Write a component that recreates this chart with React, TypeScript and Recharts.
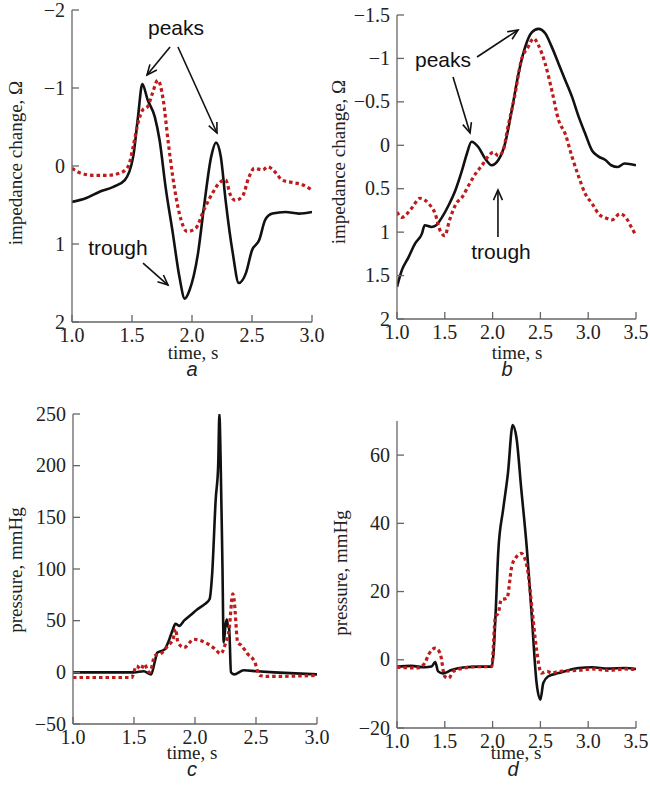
import React from "react"
import { LineChart, Line, XAxis, YAxis, ReferenceLine, ReferenceDot } from "recharts"

// panel a: impedance change, time 1.0–3.0 s
const aBlackT = [1.0, 1.12, 1.23, 1.34, 1.44, 1.51, 1.55, 1.586, 1.63, 1.69, 1.73, 1.78, 1.84, 1.895, 1.94, 1.98, 2.05, 2.1, 2.16, 2.2, 2.24, 2.28, 2.34, 2.39, 2.45, 2.5, 2.56, 2.61, 2.67, 2.78, 2.89, 3.0]
const aBlackV = [0.46, 0.41, 0.33, 0.27, 0.18, -0.12, -0.63, -1.05, -0.85, -0.63, -0.33, 0.27, 0.86, 1.42, 1.7, 1.59, 1.12, 0.52, -0.12, -0.3, -0.12, 0.44, 1.12, 1.5, 1.37, 1.08, 0.95, 0.69, 0.61, 0.59, 0.61, 0.59]
const aRedT = [1.0, 1.07, 1.18, 1.29, 1.4, 1.47, 1.51, 1.55, 1.59, 1.63, 1.67, 1.715, 1.76, 1.8, 1.84, 1.895, 1.96, 2.03, 2.1, 2.17, 2.24, 2.28, 2.32, 2.36, 2.42, 2.475, 2.52, 2.59, 2.63, 2.7, 2.75, 2.83, 2.92, 3.0]
const aRedV = [0.03, 0.09, 0.12, 0.12, 0.09, 0.0, -0.25, -0.55, -0.72, -0.76, -0.93, -1.1, -0.85, -0.33, 0.14, 0.61, 0.84, 0.8, 0.56, 0.35, 0.2, 0.18, 0.37, 0.44, 0.39, 0.14, 0.03, 0.05, 0.01, 0.09, 0.18, 0.21, 0.24, 0.31]

// panel b: impedance change, time 1.0–3.5 s
const bBlackT = [1.0, 1.05, 1.12, 1.19, 1.26, 1.29, 1.36, 1.41, 1.47, 1.54, 1.61, 1.68, 1.73, 1.78, 1.85, 1.92, 1.99, 2.06, 2.13, 2.2, 2.27, 2.34, 2.41, 2.48, 2.55, 2.62, 2.69, 2.76, 2.83, 2.9, 2.97, 3.04, 3.11, 3.18, 3.24, 3.31, 3.38, 3.5]
const bBlackV = [1.63, 1.44, 1.29, 1.13, 1.02, 0.92, 0.94, 0.92, 0.83, 0.69, 0.52, 0.29, 0.1, -0.04, 0.02, 0.15, 0.23, 0.17, -0.02, -0.4, -0.82, -1.13, -1.3, -1.34, -1.29, -1.13, -0.94, -0.75, -0.56, -0.33, -0.13, 0.06, 0.13, 0.17, 0.23, 0.25, 0.21, 0.23]
const bRedT = [1.0, 1.05, 1.15, 1.24, 1.33, 1.4, 1.45, 1.5, 1.55, 1.62, 1.68, 1.75, 1.82, 1.89, 1.96, 2.01, 2.06, 2.11, 2.16, 2.23, 2.3, 2.37, 2.43, 2.48, 2.55, 2.62, 2.69, 2.76, 2.83, 2.9, 2.97, 3.04, 3.11, 3.19, 3.25, 3.33, 3.4, 3.45, 3.5]
const bRedV = [0.77, 0.83, 0.73, 0.61, 0.67, 0.79, 0.98, 1.04, 0.86, 0.67, 0.6, 0.46, 0.33, 0.23, 0.12, 0.08, 0.12, 0.06, -0.21, -0.56, -0.98, -1.13, -1.23, -1.15, -0.94, -0.63, -0.29, -0.13, 0.13, 0.36, 0.56, 0.67, 0.79, 0.84, 0.86, 0.79, 0.84, 0.94, 1.04]

// panel c: pressure, time 1.0–3.0 s
const cBlackT = [1.0, 1.5, 1.58, 1.64, 1.67, 1.69, 1.75, 1.78, 1.82, 1.84, 1.87, 1.91, 1.97, 2.02, 2.08, 2.12, 2.14, 2.17, 2.19, 2.2, 2.21, 2.225, 2.235, 2.25, 2.26, 2.27, 2.28, 2.295, 2.32, 2.4, 2.51, 2.65, 3.0]
const cBlackV = [0, 0, 1, -2, 10, 19, 22, 29, 42, 47, 45, 50, 56, 61, 66, 71, 94, 168, 200, 250, 206, 103, 29, 45, 51, 45, 42, 0, -2, 2, 1, 0, -2]
const cRedT = [1.0, 1.48, 1.52, 1.56, 1.58, 1.63, 1.67, 1.72, 1.78, 1.82, 1.84, 1.86, 1.91, 1.99, 2.08, 2.16, 2.21, 2.25, 2.28, 2.31, 2.32, 2.35, 2.38, 2.43, 2.49, 2.53, 2.6, 3.0]
const cRedV = [-5, -5, 6, 3, 8, 0, 16, 18, 26, 32, 42, 29, 24, 32, 29, 23, 18, 28, 42, 76, 71, 29, 26, 18, 10, -3, -4, -3]

// panel d: pressure, time 1.0–3.5 s
const dBlackT = [1.0, 1.15, 1.29, 1.36, 1.4, 1.43, 1.48, 1.57, 1.71, 1.85, 1.99, 2.01, 2.03, 2.06, 2.11, 2.16, 2.21, 2.25, 2.3, 2.36, 2.41, 2.46, 2.5, 2.53, 2.58, 2.69, 2.9, 3.04, 3.21, 3.39, 3.5]
const dBlackV = [-2, -1.8, -2.2, -2, -0.7, -3.4, -4, -3, -2.2, -2, -2, 2, 12.7, 32, 44, 54.6, 68.8, 65, 50, 32, 12.7, -6.8, -11.7, -6.8, -4.9, -3.9, -2.4, -2.2, -2.6, -2.4, -2.7]
const dRedT = [1.0, 1.22, 1.29, 1.33, 1.4, 1.45, 1.5, 1.54, 1.59, 1.71, 1.85, 1.99, 2.03, 2.06, 2.09, 2.15, 2.2, 2.25, 2.3, 2.36, 2.41, 2.46, 2.51, 2.57, 2.62, 2.69, 2.9, 3.04, 3.21, 3.39, 3.5]
const dRedV = [-2.2, -2.4, -1, 1.5, 3.4, 2, -4.9, -5.4, -3.4, -2.4, -2, -2, 12.7, 13.7, 17.6, 18, 27.3, 30.2, 31.2, 27.3, 15.6, 2.9, -3.9, -3.4, -3.9, -3.4, -3.1, -2.7, -3.1, -2.7, -2.9]

const xTicksShort = [1.0, 1.5, 2.0, 2.5, 3.0]
const xTicksLong = [1.0, 1.5, 2.0, 2.5, 3.0, 3.5]
const aYTicks = [-2, -1, 0, 1, 2]
const bYTicks = [-1.5, -1, -0.5, 0, 0.5, 1, 1.5, 2]
const cYTicks = [-50, 0, 50, 100, 150, 200, 250]
const dYTicks = [-20, 0, 20, 40, 60]

const SERIF = '"Liberation Serif", "Times New Roman", serif'
const SANS = '"Liberation Sans", Arial, sans-serif'
const RED = "#c01a1a"
const BLACK = "#111"
const AXIS = "#666"

const zip = (t: number[], v: number[]) => t.map((x, i) => ({ t: x, v: v[i] }))
const fmtY = (v: number) => (v < 0 ? "\u2212" + Math.abs(v) : String(v))
const fmtX = (v: number) => v.toFixed(1)

// tick labels drawn by hand so the serif font and size stick
function XTick(props: any) {
  const { x, y, payload } = props
  return (
    <text x={x} y={y + 14} textAnchor="middle" fontFamily={SERIF} fontSize={20} fill="#222">
      {fmtX(payload.value)}
    </text>
  )
}
function YTick(props: any) {
  const { x, y, payload } = props
  return (
    <text x={x} y={y + 6.5} textAnchor="end" fontFamily={SERIF} fontSize={20} fill="#222">
      {fmtY(payload.value)}
    </text>
  )
}

const Arrow = (props: any) => {
  const { x1, y1, x2, y2 } = props
  const ang = Math.atan2(y2 - y1, x2 - x1)
  const L = 11
  const w = 0.42
  const p1 = `${x2 - L * Math.cos(ang - w)},${y2 - L * Math.sin(ang - w)}`
  const p2 = `${x2 - L * Math.cos(ang + w)},${y2 - L * Math.sin(ang + w)}`
  return (
    <g>
      <line x1={x1} y1={y1} x2={x2} y2={y2} stroke="#111" strokeWidth={1.6} />
      <polyline points={`${p1} ${x2},${y2} ${p2}`} fill="none" stroke="#111" strokeWidth={1.6} />
    </g>
  )
}

const textShape = (label: string) => (p: any) => (
  <text x={p.cx} y={p.cy} textAnchor="middle" dominantBaseline="central" fontFamily={SANS} fontSize={21} fill="#111">
    {label}
  </text>
)

type Ann = { from: [number, number]; to: [number, number] }
type Txt = { at: [number, number]; label: string }

interface PanelProps {
  left: number
  top: number
  margin: { top: number; right: number }
  yWidth: number
  xHeight: number
  xDomain: [number, number]
  xTicks: number[]
  yDomain: [number, number]
  yTicks: number[]
  reversed?: boolean
  black: { t: number; v: number }[]
  red: { t: number; v: number }[]
  arrows?: Ann[]
  texts?: Txt[]
}

function Panel(p: PanelProps) {
  return (
    <div style={{ position: "absolute", left: p.left, top: p.top }}>
      <LineChart width={325 + 12} height={400} margin={{ top: p.margin.top, right: p.margin.right + 12, left: 0, bottom: 0 }}>
        <XAxis
          dataKey="t"
          type="number"
          domain={p.xDomain}
          ticks={p.xTicks}
          allowDataOverflow
          height={p.xHeight}
          stroke={AXIS}
          strokeWidth={1.3}
          tickSize={-7}
          tickMargin={13}
          tick={XTick}
          tickLine={{ stroke: AXIS, strokeWidth: 1.3 }}
          interval={0}
        />
        <YAxis
          type="number"
          domain={p.yDomain}
          ticks={p.yTicks}
          reversed={p.reversed}
          allowDataOverflow
          width={p.yWidth}
          stroke={AXIS}
          strokeWidth={1.3}
          tickSize={-7}
          tickMargin={14}
          tick={YTick}
          tickLine={{ stroke: AXIS, strokeWidth: 1.3 }}
          interval={0}
        />
        <Line data={p.black} dataKey="v" type="monotone" stroke={BLACK} strokeWidth={2.6} dot={false} isAnimationActive={false} />
        <Line data={p.red} dataKey="v" type="monotone" stroke={RED} strokeWidth={3.2} strokeDasharray="3.5 3" dot={false} isAnimationActive={false} />
        {(p.arrows || []).map((a, i) => (
          <ReferenceLine
            key={"ar" + i}
            segment={[{ x: a.from[0], y: a.from[1] }, { x: a.to[0], y: a.to[1] }]}
            shape={Arrow}
            ifOverflow="visible"
          />
        ))}
        {(p.texts || []).map((t, i) => (
          <ReferenceDot key={"tx" + i} x={t.at[0]} y={t.at[1]} r={0} shape={textShape(t.label)} ifOverflow="visible" />
        ))}
      </LineChart>
    </div>
  )
}

const titles = [
  { x: 15, y: 163, text: "impedance change, \u03a9", rot: true },
  { x: 338, y: 162, text: "impedance change, \u03a9", rot: true },
  { x: 15, y: 570, text: "pressure, mmHg", rot: true },
  { x: 340, y: 573, text: "pressure, mmHg", rot: true },
  { x: 193, y: 352, text: "time, s", rot: false },
  { x: 517, y: 352, text: "time, s", rot: false },
  { x: 192, y: 752, text: "time, s", rot: false },
  { x: 516, y: 752, text: "time, s", rot: false },
]
const letters = [
  { x: 192, y: 369, text: "a" },
  { x: 507, y: 369, text: "b" },
  { x: 192, y: 769, text: "c" },
  { x: 513, y: 769, text: "d" },
]

export default function App() {
  return (
    <div style={{ position: "absolute", left: 0, top: 0, width: 650, height: 799, background: "#fff", overflow: "hidden" }}>
      <Panel
        left={0}
        top={0}
        margin={{ top: 10, right: 13 }}
        yWidth={72}
        xHeight={78}
        xDomain={[1, 3]}
        xTicks={xTicksShort}
        yDomain={[-2, 2]}
        yTicks={aYTicks}
        reversed
        black={zip(aBlackT, aBlackV)}
        red={zip(aRedT, aRedV)}
        arrows={[
          { from: [1.817, -1.526], to: [1.625, -1.167] },
          { from: [1.883, -1.526], to: [2.208, -0.423] },
          { from: [1.592, 1.244], to: [1.8, 1.526] },
        ]}
        texts={[
          { at: [1.867, -1.78], label: "peaks" },
          { at: [1.383, 1.04], label: "trough" },
        ]}
      />
      <Panel
        left={325}
        top={0}
        margin={{ top: 15, right: 14 }}
        yWidth={72}
        xHeight={81}
        xDomain={[1, 3.5]}
        xTicks={xTicksLong}
        yDomain={[-1.5, 2]}
        yTicks={bYTicks}
        reversed
        black={zip(bBlackT, bBlackV)}
        red={zip(bRedT, bRedV)}
        arrows={[
          { from: [1.837, -1.016], to: [2.266, -1.327] },
          { from: [1.586, -0.786], to: [1.764, -0.142] },
          { from: [2.056, 1.056], to: [2.056, 0.515] },
        ]}
        texts={[
          { at: [1.481, -0.982], label: "peaks" },
          { at: [2.088, 1.228], label: "trough" },
        ]}
      />
      <Panel
        left={0}
        top={400}
        margin={{ top: 14, right: 8 }}
        yWidth={73}
        xHeight={76}
        xDomain={[1, 3]}
        xTicks={xTicksShort}
        yDomain={[-50, 250]}
        yTicks={cYTicks}
        black={zip(cBlackT, cBlackV)}
        red={zip(cRedT, cRedV)}
      />
      <Panel
        left={325}
        top={400}
        margin={{ top: 21, right: 14 }}
        yWidth={72}
        xHeight={72}
        xDomain={[1, 3.5]}
        xTicks={xTicksLong}
        yDomain={[-20, 70]}
        yTicks={dYTicks}
        black={zip(dBlackT, dBlackV)}
        red={zip(dRedT, dRedV)}
      />
      <svg width={650} height={799} style={{ position: "absolute", left: 0, top: 0, pointerEvents: "none" }}>
        {titles.map((t, i) => (
          <text
            key={i}
            x={t.x}
            y={t.y}
            textAnchor="middle"
            dominantBaseline="central"
            fontFamily={SERIF}
            fontSize={19}
            fill="#222"
            transform={t.rot ? `rotate(-90 ${t.x} ${t.y})` : undefined}
          >
            {t.text}
          </text>
        ))}
        {letters.map((l, i) => (
          <text key={"l" + i} x={l.x} y={l.y} textAnchor="middle" dominantBaseline="central" fontFamily={SANS} fontStyle="italic" fontSize={20} fill="#222">
            {l.text}
          </text>
        ))}
      </svg>
    </div>
  )
}
